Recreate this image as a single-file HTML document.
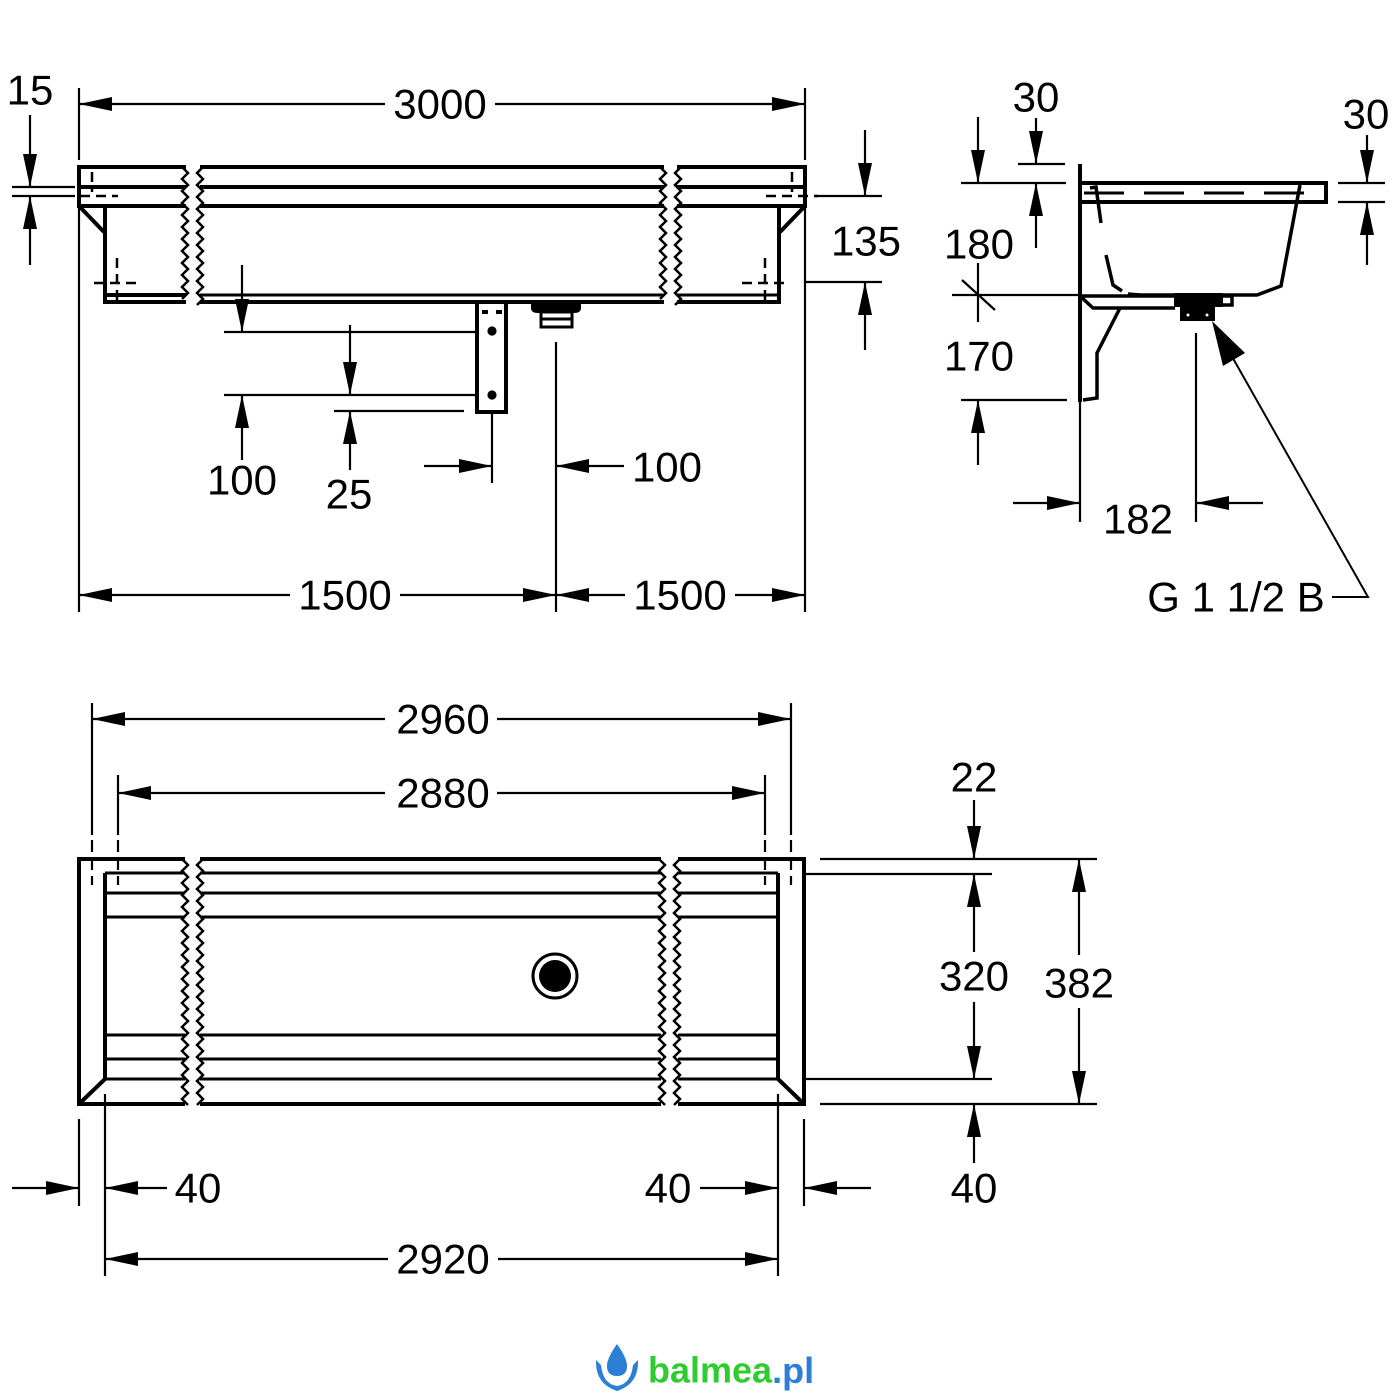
<!DOCTYPE html>
<html><head><meta charset="utf-8"><style>
html,body{margin:0;padding:0;background:#fff}
svg{display:block}
text{font-family:"Liberation Sans",Arial,sans-serif;font-size:42px;fill:#000;text-anchor:middle;dominant-baseline:central}
</style></head><body>
<svg width="1400" height="1400" viewBox="0 0 1400 1400" xmlns="http://www.w3.org/2000/svg">
<defs>
<marker id="a" viewBox="-34 -8 35 16" refX="0" refY="0" markerWidth="35" markerHeight="16" markerUnits="userSpaceOnUse" orient="auto">
<path d="M0,0 L-33,-7 L-33,7 z" fill="#000"/></marker>
</defs>
<g fill="none" stroke="#000" stroke-width="2.2">
<!-- ================= FRONT VIEW ================= -->
<g stroke-width="4">
<path d="M186 167 H79 V206 H186 M79 187 H186"/>
<path d="M200 167 H664 M200 187 H664 M200 206 H664"/>
<path d="M677 167 H805 V206 H677 M677 187 H805"/>
<path d="M105 206 V302 H186 M105 295 H186"/>
<path d="M200 302 H664"/>
<path d="M779 206 V302 H677"/>
<path d="M79 206 L104 232 M805 206 L780 232"/>
</g>
<path d="M200 295 H664 M677 295 H779" stroke-width="3"/>
<g stroke-width="2.5">
<path d="M182 167 l6 6 l-6 6 l6 6 l-6 6 l6 6 l-6 6 l6 6 l-6 6 l6 6 l-6 6 l6 6 l-6 6 l6 6 l-6 6 l6 6 l-6 6 l6 6 l-6 6 l6 6 l-6 6 l6 6 l-6 6"/>
<path d="M203 167 l-6 6 l6 6 l-6 6 l6 6 l-6 6 l6 6 l-6 6 l6 6 l-6 6 l6 6 l-6 6 l6 6 l-6 6 l6 6 l-6 6 l6 6 l-6 6 l6 6 l-6 6 l6 6 l-6 6 l6 6 l-6 6"/>
<path d="M660 167 l6 6 l-6 6 l6 6 l-6 6 l6 6 l-6 6 l6 6 l-6 6 l6 6 l-6 6 l6 6 l-6 6 l6 6 l-6 6 l6 6 l-6 6 l6 6 l-6 6 l6 6 l-6 6 l6 6 l-6 6"/>
<path d="M681 167 l-6 6 l6 6 l-6 6 l6 6 l-6 6 l6 6 l-6 6 l6 6 l-6 6 l6 6 l-6 6 l6 6 l-6 6 l6 6 l-6 6 l6 6 l-6 6 l6 6 l-6 6 l6 6 l-6 6 l6 6 l-6 6"/>
</g>
<g stroke-width="2.5" stroke-dasharray="10 6">
<path d="M92 172 V192 M80 196 H118 M117 258 V303 M94 283 H142"/>
<path d="M792 172 V192 M766 196 H818 M765 258 V303 M742 283 H788"/>
</g>
<rect x="477" y="302" width="29" height="110" stroke-width="4"/>
<circle cx="492" cy="331" r="3.5" fill="#000"/><circle cx="492" cy="395" r="3.5" fill="#000"/>
<path d="M482 312 h6 M496 312 h6" stroke-width="4"/>
<path d="M532 302 H580 V308 Q580 312 574 312 H538 Q532 312 532 308 Z" fill="#000" stroke-width="2"/>
<rect x="541" y="312" width="31" height="15" stroke-width="3"/>
<path d="M541 319 H572" stroke-width="3"/>
<path d="M79 88 V160 M805 88 V160 M79 208 V612 M805 208 V612"/>
<path d="M385 104 H79" marker-end="url(#a)"/><path d="M495 104 H805" marker-end="url(#a)"/>
<path d="M12 187 H75 M12 196 H75"/>
<path d="M30 115 V187" marker-end="url(#a)"/><path d="M30 265 V196" marker-end="url(#a)"/>
<path d="M815 196 H882 M805 282 H882"/>
<path d="M865 130 V196" marker-end="url(#a)"/><path d="M865 350 V282" marker-end="url(#a)"/>
<path d="M224 332 H476 M224 395 H476 M334 411 H464"/>
<path d="M242 265 V332" marker-end="url(#a)"/><path d="M242 460 V395" marker-end="url(#a)"/>
<path d="M350 325 V395" marker-end="url(#a)"/><path d="M350 470 V411" marker-end="url(#a)"/>
<path d="M492 412 V483"/><path d="M424 466 H492" marker-end="url(#a)"/>
<path d="M556 342 V612"/><path d="M624 466 H556" marker-end="url(#a)"/>
<path d="M290 595 H79" marker-end="url(#a)"/><path d="M400 595 H556" marker-end="url(#a)"/>
<path d="M625 595 H556" marker-end="url(#a)"/><path d="M735 595 H805" marker-end="url(#a)"/>

<!-- ================= SIDE VIEW ================= -->
<path d="M1080 164 V402" stroke-width="4"/>
<path d="M1080 402 V522"/>
<path d="M1080 183 H1326 V202 H1080" stroke-width="4"/>
<path d="M1084 193 H1326" stroke-width="3" stroke-dasharray="40 20"/>
<path d="M1300 185 L1281 286 L1257 295 H1135" stroke-width="3.5"/>
<path d="M1090 188 L1096 187 L1101 223 M1106 255 L1113 285 L1122 291 M1128 294 L1140 295" stroke-width="3.5"/>
<path d="M1080 296 H1232 V305 H1222 M1080 296 L1093 308 H1175" stroke-width="3.5"/>
<path d="M1120 308 L1097 353 V398 L1083 400" stroke-width="3.5"/>
<rect x="1175" y="294" width="47" height="12" fill="#000" stroke-width="2"/>
<rect x="1181" y="306" width="33" height="14" fill="#000" stroke-width="2"/>
<circle cx="1188" cy="315" r="1.5" fill="#fff" stroke="none"/><circle cx="1207" cy="315" r="1.5" fill="#fff" stroke="none"/>
<path d="M1018 164 H1065 M961 183 H1066"/>
<path d="M1036 118 V164" marker-end="url(#a)"/><path d="M1036 248 V183" marker-end="url(#a)"/>
<path d="M978 117 V183" marker-end="url(#a)"/>
<path d="M952 295 H1080 M978 263 V322 M962 280 L995 310"/>
<path d="M961 400 H1067"/><path d="M978 465 V400" marker-end="url(#a)"/>
<path d="M1338 183 H1385 M1338 202 H1385"/>
<path d="M1367 135 V183" marker-end="url(#a)"/><path d="M1367 265 V202" marker-end="url(#a)"/>
<path d="M1196 333 V522"/>
<path d="M1013 503 H1080" marker-end="url(#a)"/><path d="M1263 503 H1196" marker-end="url(#a)"/>
<path d="M1332 597 H1368 L1230 353" stroke-width="2"/>
<polygon points="1212,321 1245,353 1223,366" fill="#000" stroke="none"/>

<!-- ================= PLAN VIEW ================= -->
<g stroke-width="4">
<path d="M185 859 H79 V1104 H185"/>
<path d="M105 873 V1079 L79 1104"/>
<path d="M200 859 H661 M200 1104 H661"/>
<path d="M678 859 H804 V1104 H678"/>
<path d="M778 873 V1079 L804 1104"/>
</g>
<g stroke-width="3">
<path d="M105 873 H185 M105 893 H185 M105 917 H185 M105 1035 H185 M105 1059 H185 M105 1079 H185"/>
<path d="M200 873 H661 M200 893 H661 M200 917 H661 M200 1035 H661 M200 1059 H661 M200 1079 H661"/>
<path d="M678 873 H778 M678 893 H778 M678 917 H778 M678 1035 H778 M678 1059 H778 M678 1079 H778"/>
</g>
<g stroke-width="2.5">
<path d="M182 859 l6 6 l-6 6 l6 6 l-6 6 l6 6 l-6 6 l6 6 l-6 6 l6 6 l-6 6 l6 6 l-6 6 l6 6 l-6 6 l6 6 l-6 6 l6 6 l-6 6 l6 6 l-6 6 l6 6 l-6 6 l6 6 l-6 6 l6 6 l-6 6 l6 6 l-6 6 l6 6 l-6 6 l6 6 l-6 6 l6 6 l-6 6 l6 6 l-6 6 l6 6 l-6 6 l6 6 l-6 6 l6 6"/>
<path d="M203 859 l-6 6 l6 6 l-6 6 l6 6 l-6 6 l6 6 l-6 6 l6 6 l-6 6 l6 6 l-6 6 l6 6 l-6 6 l6 6 l-6 6 l6 6 l-6 6 l6 6 l-6 6 l6 6 l-6 6 l6 6 l-6 6 l6 6 l-6 6 l6 6 l-6 6 l6 6 l-6 6 l6 6 l-6 6 l6 6 l-6 6 l6 6 l-6 6 l6 6 l-6 6 l6 6 l-6 6 l6 6 l-6 6"/>
<path d="M659 859 l6 6 l-6 6 l6 6 l-6 6 l6 6 l-6 6 l6 6 l-6 6 l6 6 l-6 6 l6 6 l-6 6 l6 6 l-6 6 l6 6 l-6 6 l6 6 l-6 6 l6 6 l-6 6 l6 6 l-6 6 l6 6 l-6 6 l6 6 l-6 6 l6 6 l-6 6 l6 6 l-6 6 l6 6 l-6 6 l6 6 l-6 6 l6 6 l-6 6 l6 6 l-6 6 l6 6 l-6 6 l6 6"/>
<path d="M680 859 l-6 6 l6 6 l-6 6 l6 6 l-6 6 l6 6 l-6 6 l6 6 l-6 6 l6 6 l-6 6 l6 6 l-6 6 l6 6 l-6 6 l6 6 l-6 6 l6 6 l-6 6 l6 6 l-6 6 l6 6 l-6 6 l6 6 l-6 6 l6 6 l-6 6 l6 6 l-6 6 l6 6 l-6 6 l6 6 l-6 6 l6 6 l-6 6 l6 6 l-6 6 l6 6 l-6 6 l6 6 l-6 6"/>
</g>
<circle cx="555" cy="976" r="22" stroke-width="3"/>
<circle cx="555" cy="976" r="16" fill="#000" stroke="none"/>
<path d="M92 703 V835 M791 703 V835 M118 775 V835 M765 775 V835"/>
<path d="M92 840 V885 M791 840 V885 M118 840 V885 M765 840 V885" stroke-dasharray="12 6"/>
<path d="M385 719 H92" marker-end="url(#a)"/><path d="M497 719 H791" marker-end="url(#a)"/>
<path d="M385 793 H118" marker-end="url(#a)"/><path d="M497 793 H765" marker-end="url(#a)"/>
<path d="M820 859 H1097 M805 874 H992 M805 1079 H992 M820 1104 H1097"/>
<path d="M974 800 V859" marker-end="url(#a)"/>
<path d="M974 952 V874" marker-end="url(#a)"/><path d="M974 1002 V1079" marker-end="url(#a)"/>
<path d="M974 1163 V1104" marker-end="url(#a)"/>
<path d="M1079 955 V859" marker-end="url(#a)"/><path d="M1079 1008 V1104" marker-end="url(#a)"/>
<path d="M79 1119 V1206 M105 1094 V1276 M778 1094 V1276 M804 1119 V1206"/>
<path d="M12 1188 H79" marker-end="url(#a)"/><path d="M167 1188 H105" marker-end="url(#a)"/>
<path d="M700 1188 H778" marker-end="url(#a)"/><path d="M871 1188 H804" marker-end="url(#a)"/>
<path d="M388 1259 H105" marker-end="url(#a)"/><path d="M498 1259 H778" marker-end="url(#a)"/>
</g>
<text x="30" y="90">15</text>
<text x="440" y="104">3000</text>
<text x="866" y="241">135</text>
<text x="242" y="480">100</text>
<text x="349" y="494">25</text>
<text x="667" y="467">100</text>
<text x="345" y="595">1500</text>
<text x="680" y="595">1500</text>
<text x="1036" y="97">30</text>
<text x="1366" y="114">30</text>
<text x="979" y="244">180</text>
<text x="979" y="356">170</text>
<text x="1138" y="519">182</text>
<text x="1236" y="597">G 1 1/2 B</text>
<text x="443" y="719">2960</text>
<text x="443" y="793">2880</text>
<text x="974" y="777">22</text>
<text x="974" y="976">320</text>
<text x="1079" y="983">382</text>
<text x="974" y="1188">40</text>
<text x="198" y="1188">40</text>
<text x="668" y="1188">40</text>
<text x="443" y="1259">2920</text>
<!-- logo -->
<g>
<path d="M617 1344 Q607 1358 607 1366 Q607 1376 617 1376 Q627 1376 627 1366 Q627 1358 617 1344 Z" fill="#2b7fd4"/>
<path d="M596 1360 Q595 1384 617 1391 Q639 1384 638 1360 L633 1365 Q631 1384 617 1386 Q603 1384 601 1365 Z" fill="#2b7fd4"/>
<text x="648" y="1370" style="font-size:36px;font-weight:bold;fill:#2ecc2e;text-anchor:start">balmea<tspan style="fill:#2b7fd4">.pl</tspan></text>
</g>
</svg>
</body></html>
